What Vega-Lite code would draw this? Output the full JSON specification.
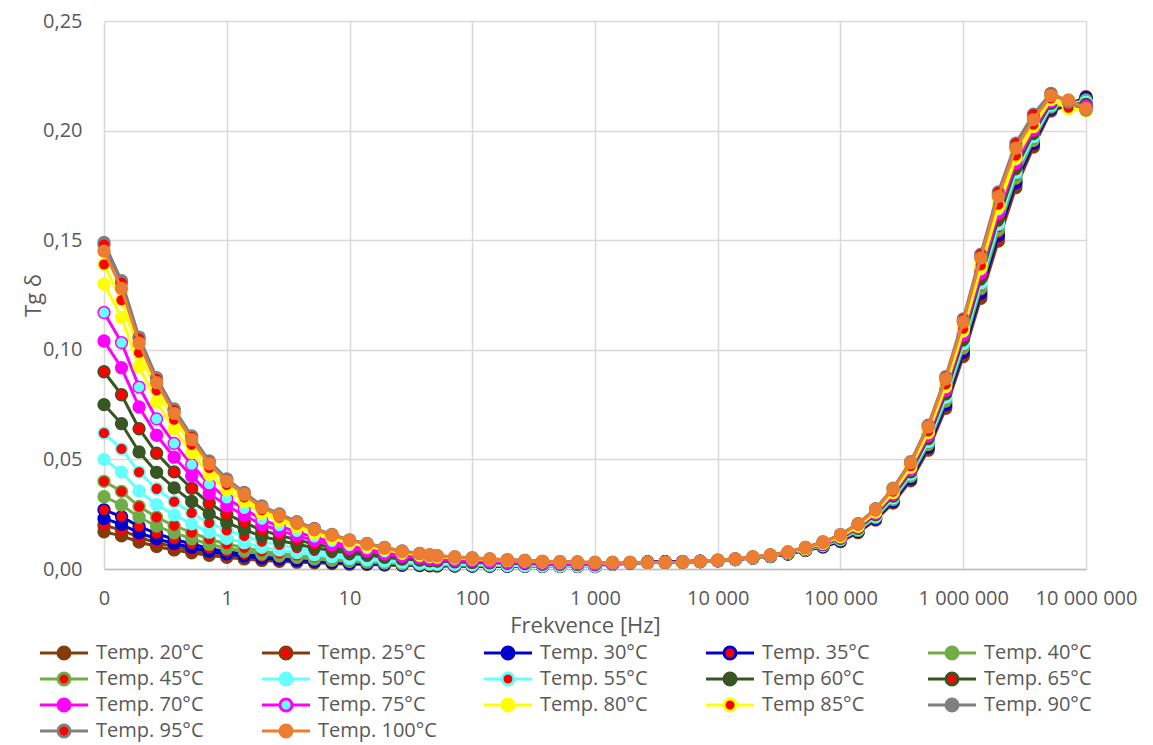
{
"$schema": "https://vega.github.io/schema/vega-lite/v6.json",
"width": 982, "height": 548,
"autosize": {"type": "none"},
"padding": {"left": 104, "top": 21, "right": 67, "bottom": 176},
"background": "white",
"config": {
  "view": {"stroke": null},
  "font": "Open Sans",
  "line": {"strokeWidth": 3, "strokeJoin": "round"},
  "point": {"filled": true, "size": 140, "strokeWidth": 1.5, "opacity": 1},
  "axis": {"gridColor": "#D9D9D9", "gridWidth": 1.5, "labelColor": "#595959", "titleColor": "#595959", "labelFont": "Open Sans", "titleFont": "Open Sans", "titleFontWeight": "normal", "ticks": false, "labelFontSize": 20, "titleFontSize": 22, "labelFlush": false, "labelOverlap": false},
  "legend": {"columns": 5, "direction": "horizontal", "gridAlign": "all", "columnPadding": 45, "rowPadding": 6, "symbolSize": 144, "symbolStrokeWidth": 2.5, "labelFont": "Open Sans", "labelFontSize": 20, "labelColor": "#595959", "labelOffset": 22, "padding": 0, "symbolStrokeColor": "#000000", "symbolFillColor": "#000000", "labelLimit": 220}
},
"data": {"values": [
{"f":0.1,"20":0.017,"25":0.020,"30":0.023,"35":0.027,"40":0.033,"45":0.040,"50":0.050,"55":0.062,"60":0.075,"65":0.090,"70":0.104,"75":0.117,"80":0.130,"85":0.139,"90":0.149,"95":0.148,"100":0.145},
{"f":0.1389,"20":0.0151,"25":0.0177,"30":0.0204,"35":0.0239,"40":0.0292,"45":0.0354,"50":0.0442,"55":0.0548,"60":0.0663,"65":0.0795,"70":0.0918,"75":0.1033,"80":0.1148,"85":0.1227,"90":0.1315,"95":0.1306,"100":0.128},
{"f":0.1931,"20":0.0123,"25":0.0144,"30":0.0165,"35":0.0194,"40":0.0236,"45":0.0285,"50":0.0356,"55":0.0442,"60":0.0534,"65":0.0640,"70":0.0739,"75":0.0830,"80":0.0924,"85":0.0987,"90":0.1058,"95":0.1051,"100":0.103},
{"f":0.2683,"20":0.0103,"25":0.0120,"30":0.0138,"35":0.0161,"40":0.0196,"45":0.0236,"50":0.0294,"55":0.0366,"60":0.0441,"65":0.0528,"70":0.0610,"75":0.0685,"80":0.0762,"85":0.0815,"90":0.0873,"95":0.0867,"100":0.085},
{"f":0.3728,"20":0.0087,"25":0.0102,"30":0.0116,"35":0.0136,"40":0.0165,"45":0.0198,"50":0.0247,"55":0.0307,"60":0.0370,"65":0.0443,"70":0.0510,"75":0.0573,"80":0.0638,"85":0.0682,"90":0.0730,"95":0.0725,"100":0.071},
{"f":0.5179,"20":0.0074,"25":0.0086,"30":0.0098,"35":0.0114,"40":0.0138,"45":0.0166,"50":0.0206,"55":0.0256,"60":0.0308,"65":0.0368,"70":0.0424,"75":0.0476,"80":0.0531,"85":0.0567,"90":0.0607,"95":0.0603,"100":0.059},
{"f":0.7197,"20":0.0062,"25":0.0071,"30":0.0081,"35":0.0094,"40":0.0113,"45":0.0136,"50":0.0168,"55":0.0210,"60":0.0252,"65":0.0300,"70":0.0345,"75":0.0387,"80":0.0432,"85":0.0461,"90":0.0493,"95":0.0490,"100":0.048},
{"f":1,"20":0.0053,"25":0.0061,"30":0.0069,"35":0.0079,"40":0.0095,"45":0.0114,"50":0.0140,"55":0.0176,"60":0.0211,"65":0.0250,"70":0.0288,"75":0.0322,"80":0.0361,"85":0.0384,"90":0.0411,"95":0.0408,"100":0.040},
{"f":1.389,"20":0.0046,"25":0.0053,"30":0.0059,"35":0.0068,"40":0.0082,"45":0.0097,"50":0.0120,"55":0.0151,"60":0.0180,"65":0.0213,"70":0.0245,"75":0.0274,"80":0.0307,"85":0.0327,"90":0.0349,"95":0.0347,"100":0.034},
{"f":1.931,"20":0.0039,"25":0.0045,"30":0.0050,"35":0.0057,"40":0.0068,"45":0.0081,"50":0.0099,"55":0.0125,"60":0.0149,"65":0.0176,"70":0.0202,"75":0.0225,"80":0.0253,"85":0.0269,"90":0.0288,"95":0.0286,"100":0.028},
{"f":2.683,"20":0.0035,"25":0.0040,"30":0.0045,"35":0.0051,"40":0.0060,"45":0.0071,"50":0.0087,"55":0.0110,"60":0.0130,"65":0.0154,"70":0.0176,"75":0.0196,"80":0.0221,"85":0.0235,"90":0.0251,"95":0.0249,"100":0.0245},
{"f":3.728,"20":0.0031,"25":0.0035,"30":0.0039,"35":0.0045,"40":0.0053,"45":0.0062,"50":0.0075,"55":0.0095,"60":0.0113,"65":0.0133,"70":0.0151,"75":0.0169,"80":0.0190,"85":0.0202,"90":0.0216,"95":0.0214,"100":0.021},
{"f":5.179,"20":0.0028,"25":0.0031,"30":0.0035,"35":0.0039,"40":0.0046,"45":0.0054,"50":0.0065,"55":0.0083,"60":0.0097,"65":0.0114,"70":0.0130,"75":0.0144,"80":0.0163,"85":0.0173,"90":0.0185,"95":0.0184,"100":0.018},
{"f":7.197,"20":0.0025,"25":0.0028,"30":0.0031,"35":0.0034,"40":0.0040,"45":0.0047,"50":0.0056,"55":0.0072,"60":0.0084,"65":0.0098,"70":0.0111,"75":0.0124,"80":0.0140,"85":0.0149,"90":0.0158,"95":0.0157,"100":0.0155},
{"f":10,"20":0.0022,"25":0.0025,"30":0.0027,"35":0.0030,"40":0.0035,"45":0.0040,"50":0.0048,"55":0.0062,"60":0.0072,"65":0.0083,"70":0.0094,"75":0.0104,"80":0.0119,"85":0.0126,"90":0.0133,"95":0.0132,"100":0.013},
{"f":13.89,"20":0.0021,"25":0.0023,"30":0.0025,"35":0.0027,"40":0.0031,"45":0.0036,"50":0.0042,"55":0.0055,"60":0.0064,"65":0.0073,"70":0.0083,"75":0.0091,"80":0.0104,"85":0.0110,"90":0.0117,"95":0.0116,"100":0.0114},
{"f":19.31,"20":0.0018,"25":0.0020,"30":0.0022,"35":0.0024,"40":0.0027,"45":0.0031,"50":0.0036,"55":0.0047,"60":0.0054,"65":0.0062,"70":0.0069,"75":0.0076,"80":0.0088,"85":0.0093,"90":0.0098,"95":0.0097,"100":0.0096},
{"f":26.83,"20":0.0017,"25":0.0018,"30":0.0019,"35":0.0021,"40":0.0023,"45":0.0026,"50":0.0031,"55":0.0040,"60":0.0046,"65":0.0052,"70":0.0058,"75":0.0064,"80":0.0074,"85":0.0078,"90":0.0082,"95":0.0081,"100":0.008},
{"f":37.28,"20":0.0016,"25":0.0017,"30":0.0018,"35":0.0019,"40":0.0021,"45":0.0024,"50":0.0027,"55":0.0036,"60":0.0041,"65":0.0046,"70":0.0051,"75":0.0055,"80":0.0065,"85":0.0068,"90":0.0071,"95":0.0071,"100":0.007},
{"f":45,"20":0.0015,"25":0.0016,"30":0.0017,"35":0.0018,"40":0.0020,"45":0.0022,"50":0.0025,"55":0.0033,"60":0.0037,"65":0.0042,"70":0.0046,"75":0.0050,"80":0.0058,"85":0.0061,"90":0.0064,"95":0.0064,"100":0.0064},
{"f":51.79,"20":0.0014,"25":0.0015,"30":0.0016,"35":0.0017,"40":0.0019,"45":0.0021,"50":0.0024,"55":0.0032,"60":0.0036,"65":0.0040,"70":0.0044,"75":0.0047,"80":0.0056,"85":0.0058,"90":0.0061,"95":0.0061,"100":0.006},
{"f":71.97,"20":0.0014,"25":0.0015,"30":0.0015,"35":0.0016,"40":0.0018,"45":0.0019,"50":0.0022,"55":0.0029,"60":0.0033,"65":0.0036,"70":0.0040,"75":0.0043,"80":0.0051,"85":0.0053,"90":0.0055,"95":0.0055,"100":0.0055},
{"f":100,"20":0.0013,"25":0.0014,"30":0.0015,"35":0.0015,"40":0.0017,"45":0.0018,"50":0.0020,"55":0.0028,"60":0.0030,"65":0.0034,"70":0.0037,"75":0.0039,"80":0.0047,"85":0.0049,"90":0.0051,"95":0.0051,"100":0.005},
{"f":138.9,"20":0.0013,"25":0.0013,"30":0.0014,"35":0.0015,"40":0.0016,"45":0.0017,"50":0.0019,"55":0.0026,"60":0.0028,"65":0.0031,"70":0.0033,"75":0.0036,"80":0.0043,"85":0.0045,"90":0.0046,"95":0.0046,"100":0.0046},
{"f":193.1,"20":0.0012,"25":0.0013,"30":0.0013,"35":0.0014,"40":0.0015,"45":0.0016,"50":0.0017,"55":0.0024,"60":0.0026,"65":0.0028,"70":0.0030,"75":0.0032,"80":0.0039,"85":0.0041,"90":0.0042,"95":0.0042,"100":0.0042},
{"f":268.3,"20":0.0012,"25":0.0012,"30":0.0013,"35":0.0013,"40":0.0014,"45":0.0015,"50":0.0016,"55":0.0023,"60":0.0025,"65":0.0027,"70":0.0028,"75":0.0030,"80":0.0037,"85":0.0038,"90":0.0039,"95":0.0039,"100":0.0038},
{"f":372.8,"20":0.0012,"25":0.0012,"30":0.0012,"35":0.0013,"40":0.0013,"45":0.0014,"50":0.0015,"55":0.0021,"60":0.0022,"65":0.0024,"70":0.0025,"75":0.0027,"80":0.0033,"85":0.0034,"90":0.0035,"95":0.0035,"100":0.0035},
{"f":517.9,"20":0.0011,"25":0.0012,"30":0.0012,"35":0.0012,"40":0.0013,"45":0.0014,"50":0.0014,"55":0.0020,"60":0.0022,"65":0.0023,"70":0.0024,"75":0.0025,"80":0.0032,"85":0.0032,"90":0.0033,"95":0.0033,"100":0.0033},
{"f":719.7,"20":0.0011,"25":0.0012,"30":0.0012,"35":0.0012,"40":0.0013,"45":0.0013,"50":0.0014,"55":0.0020,"60":0.0021,"65":0.0022,"70":0.0023,"75":0.0024,"80":0.0030,"85":0.0031,"90":0.0032,"95":0.0032,"100":0.0031},
{"f":1000,"20":0.0011,"25":0.0011,"30":0.0012,"35":0.0012,"40":0.0012,"45":0.0013,"50":0.0013,"55":0.0019,"60":0.0020,"65":0.0021,"70":0.0022,"75":0.0023,"80":0.0029,"85":0.0030,"90":0.0030,"95":0.0030,"100":0.003},
{"f":1389,"20":0.0022,"25":0.0022,"30":0.0022,"35":0.0022,"40":0.0022,"45":0.0022,"50":0.0022,"55":0.0025,"60":0.0025,"65":0.0025,"70":0.0025,"75":0.0025,"80":0.0029,"85":0.0029,"90":0.0030,"95":0.0030,"100":0.003},
{"f":1931,"20":0.0027,"25":0.0027,"30":0.0027,"35":0.0027,"40":0.0027,"45":0.0027,"50":0.0027,"55":0.0028,"60":0.0028,"65":0.0028,"70":0.0028,"75":0.0028,"80":0.0030,"85":0.0030,"90":0.0030,"95":0.0030,"100":0.003},
{"f":2683,"20":0.0030,"25":0.0030,"30":0.0032,"35":0.0032,"40":0.0030,"45":0.0030,"50":0.0030,"55":0.0030,"60":0.0030,"65":0.0030,"70":0.0030,"75":0.0030,"80":0.0030,"85":0.0030,"90":0.0030,"95":0.0030,"100":0.003},
{"f":3728,"20":0.0030,"25":0.0030,"30":0.0033,"35":0.0033,"40":0.0030,"45":0.0030,"50":0.0030,"55":0.0030,"60":0.0030,"65":0.0030,"70":0.0030,"75":0.0030,"80":0.0030,"85":0.0030,"90":0.0030,"95":0.0030,"100":0.0031},
{"f":5179,"20":0.0031,"25":0.0031,"30":0.0034,"35":0.0034,"40":0.0031,"45":0.0031,"50":0.0031,"55":0.0031,"60":0.0031,"65":0.0031,"70":0.0031,"75":0.0031,"80":0.0031,"85":0.0031,"90":0.0031,"95":0.0031,"100":0.0032},
{"f":7197,"20":0.0034,"25":0.0034,"30":0.0036,"35":0.0036,"40":0.0034,"45":0.0034,"50":0.0034,"55":0.0034,"60":0.0034,"65":0.0034,"70":0.0034,"75":0.0034,"80":0.0034,"85":0.0034,"90":0.0034,"95":0.0034,"100":0.0035},
{"f":10000,"20":0.0038,"25":0.0038,"30":0.0038,"35":0.0038,"40":0.0039,"45":0.0039,"50":0.0039,"55":0.0039,"60":0.0039,"65":0.0039,"70":0.0039,"75":0.0039,"80":0.0040,"85":0.0040,"90":0.0040,"95":0.0040,"100":0.0040},
{"f":13895,"20":0.0043,"25":0.0043,"30":0.0043,"35":0.0044,"40":0.0044,"45":0.0044,"50":0.0044,"55":0.0044,"60":0.0045,"65":0.0045,"70":0.0045,"75":0.0045,"80":0.0045,"85":0.0045,"90":0.0046,"95":0.0046,"100":0.0046},
{"f":19307,"20":0.0050,"25":0.0050,"30":0.0051,"35":0.0051,"40":0.0051,"45":0.0052,"50":0.0052,"55":0.0052,"60":0.0053,"65":0.0053,"70":0.0053,"75":0.0053,"80":0.0054,"85":0.0054,"90":0.0055,"95":0.0055,"100":0.0055},
{"f":26827,"20":0.0057,"25":0.0057,"30":0.0058,"35":0.0058,"40":0.0059,"45":0.0059,"50":0.0060,"55":0.0060,"60":0.0061,"65":0.0061,"70":0.0061,"75":0.0062,"80":0.0062,"85":0.0063,"90":0.0064,"95":0.0064,"100":0.0064},
{"f":37276,"20":0.0068,"25":0.0069,"30":0.0069,"35":0.0070,"40":0.0071,"45":0.0071,"50":0.0072,"55":0.0072,"60":0.0073,"65":0.0074,"70":0.0074,"75":0.0075,"80":0.0076,"85":0.0076,"90":0.0078,"95":0.0078,"100":0.0078},
{"f":51795,"20":0.0084,"25":0.0085,"30":0.0086,"35":0.0087,"40":0.0088,"45":0.0088,"50":0.0089,"55":0.0090,"60":0.0091,"65":0.0092,"70":0.0093,"75":0.0094,"80":0.0095,"85":0.0095,"90":0.0098,"95":0.0098,"100":0.0098},
{"f":71969,"20":0.0100,"25":0.0101,"30":0.0103,"35":0.0104,"40":0.0106,"45":0.0107,"50":0.0108,"55":0.0110,"60":0.0111,"65":0.0112,"70":0.0114,"75":0.0115,"80":0.0117,"85":0.0118,"90":0.0123,"95":0.0123,"100":0.0122},
{"f":100000,"20":0.0125,"25":0.0127,"30":0.0129,"35":0.0131,"40":0.0133,"45":0.0134,"50":0.0136,"55":0.0138,"60":0.0140,"65":0.0142,"70":0.0144,"75":0.0146,"80":0.0148,"85":0.0149,"90":0.0156,"95":0.0157,"100":0.0155},
{"f":138950,"20":0.0166,"25":0.0168,"30":0.0171,"35":0.0173,"40":0.0176,"45":0.0178,"50":0.0181,"55":0.0183,"60":0.0186,"65":0.0188,"70":0.0190,"75":0.0193,"80":0.0195,"85":0.0198,"90":0.0206,"95":0.0207,"100":0.0205},
{"f":193070,"20":0.0223,"25":0.0226,"30":0.0229,"35":0.0232,"40":0.0235,"45":0.0238,"50":0.0241,"55":0.0244,"60":0.0248,"65":0.0251,"70":0.0254,"75":0.0257,"80":0.0260,"85":0.0263,"90":0.0273,"95":0.0275,"100":0.0272},
{"f":268270,"20":0.0301,"25":0.0305,"30":0.0309,"35":0.0313,"40":0.0317,"45":0.0321,"50":0.0325,"55":0.0329,"60":0.0333,"65":0.0337,"70":0.0341,"75":0.0345,"80":0.0349,"85":0.0353,"90":0.0367,"95":0.0369,"100":0.0365},
{"f":372760,"20":0.0402,"25":0.0407,"30":0.0412,"35":0.0417,"40":0.0423,"45":0.0428,"50":0.0433,"55":0.0438,"60":0.0443,"65":0.0448,"70":0.0453,"75":0.0458,"80":0.0464,"85":0.0469,"90":0.0486,"95":0.0490,"100":0.0484},
{"f":517950,"20":0.0542,"25":0.0549,"30":0.0555,"35":0.0562,"40":0.0568,"45":0.0575,"50":0.0582,"55":0.0588,"60":0.0595,"65":0.0602,"70":0.0608,"75":0.0615,"80":0.0622,"85":0.0628,"90":0.0651,"95":0.0656,"100":0.0648},
{"f":719690,"20":0.0733,"25":0.0741,"30":0.0750,"35":0.0758,"40":0.0767,"45":0.0775,"50":0.0783,"55":0.0792,"60":0.0800,"65":0.0808,"70":0.0817,"75":0.0825,"80":0.0834,"85":0.0842,"90":0.0871,"95":0.0877,"100":0.0867},
{"f":1000000,"20":0.0969,"25":0.0979,"30":0.0989,"35":0.0999,"40":0.1009,"45":0.1018,"50":0.1028,"55":0.1038,"60":0.1048,"65":0.1058,"70":0.1068,"75":0.1078,"80":0.1088,"85":0.1097,"90":0.1133,"95":0.1141,"100":0.1127},
{"f":1389500,"20":0.1235,"25":0.1247,"30":0.1258,"35":0.1270,"40":0.1281,"45":0.1293,"50":0.1304,"55":0.1316,"60":0.1327,"65":0.1339,"70":0.1350,"75":0.1362,"80":0.1373,"85":0.1385,"90":0.1426,"95":0.1436,"100":0.1419},
{"f":1930700,"20":0.1496,"25":0.1509,"30":0.1522,"35":0.1534,"40":0.1547,"45":0.1560,"50":0.1573,"55":0.1585,"60":0.1598,"65":0.1611,"70":0.1624,"75":0.1636,"80":0.1649,"85":0.1662,"90":0.1709,"95":0.1720,"100":0.1700},
{"f":2682700,"20":0.1740,"25":0.1751,"30":0.1763,"35":0.1774,"40":0.1785,"45":0.1796,"50":0.1808,"55":0.1819,"60":0.1830,"65":0.1841,"70":0.1853,"75":0.1864,"80":0.1875,"85":0.1886,"90":0.1930,"95":0.1943,"100":0.1920},
{"f":3727600,"20":0.1925,"25":0.1933,"30":0.1941,"35":0.1948,"40":0.1956,"45":0.1964,"50":0.1972,"55":0.1980,"60":0.1988,"65":0.1995,"70":0.2003,"75":0.2011,"80":0.2019,"85":0.2027,"90":0.2060,"95":0.2075,"100":0.2050},
{"f":5179500,"20":0.2089,"25":0.2093,"30":0.2098,"35":0.2102,"40":0.2107,"45":0.2111,"50":0.2116,"55":0.2120,"60":0.2125,"65":0.2129,"70":0.2133,"75":0.2138,"80":0.2142,"85":0.2147,"90":0.2165,"95":0.2170,"100":0.2160},
{"f":7196900,"20":0.2115,"25":0.2115,"30":0.2120,"35":0.2120,"40":0.2120,"45":0.2125,"50":0.2125,"55":0.2125,"60":0.2125,"65":0.2120,"70":0.2110,"75":0.2110,"80":0.2100,"85":0.2105,"90":0.2130,"95":0.2135,"100":0.2140},
{"f":10000000,"20":0.2155,"25":0.2150,"30":0.2150,"35":0.2145,"40":0.2140,"45":0.2135,"50":0.2130,"55":0.2125,"60":0.2120,"65":0.2115,"70":0.2110,"75":0.2105,"80":0.2090,"85":0.2090,"90":0.2095,"95":0.2095,"100":0.2100}
]},
"transform": [{"fold": ["20","25","30","35","40","45","50","55","60","65","70","75","80","85","90","95","100"], "as": ["s","v"]}],
"encoding": {
  "x": {"field": "f", "type": "quantitative", "scale": {"type": "log", "domain": [0.1, 10000000], "nice": false},
        "axis": {"values": [0.1,1,10,100,1000,10000,100000,1000000,10000000], "labelExpr": "replace(format(datum.value, ',.0f'), regexp(',', 'g'), ' ')", "title": "Frekvence [Hz]", "titleX": 481, "grid": true, "domain": true, "domainColor": "#BFBFBF", "domainWidth": 1.5, "labelPadding": 19, "titlePadding": 7}},
  "y": {"field": "v", "type": "quantitative", "scale": {"domain": [0, 0.25], "nice": false},
        "axis": {"values": [0,0.05,0.1,0.15,0.2,0.25], "labelExpr": "replace(format(datum.value, '.2f'), '.', ',')", "title": "Tg δ", "grid": true, "domain": false, "labelPadding": 22, "titlePadding": -3}},
  "stroke": {"field": "s", "type": "nominal",
        "scale": {"domain": ["20","25","30","35","40","45","50","55","60","65","70","75","80","85","90","95","100"],
                  "range": ["#843C0C","#843C0C","#0000CC","#0000CC","#70AD47","#70AD47","#66FFFF","#66FFFF","#375623","#375623","#FF00FF","#FF00FF","#FFFF00","#FFFF00","#808080","#808080","#ED7D31"]},
        "legend": {"title": null, "orient": "none", "legendX": -50, "legendY": 622, "symbolType": "M-4,0H-1M1,0H4M-1,0A1,1,0,1,1,1,0A1,1,0,1,1,-1,0Z", "labelExpr": "(datum.label=='60'||datum.label=='85'?'Temp ':'Temp. ')+datum.label+'°C'"}}
},
"layer": [
  {"transform":[{"filter":"datum.s==='20'"}],"layer":[{"mark":"line"},{"mark":"point","encoding":{"fill":{"field":"s","type":"nominal",
      "scale": {"domain": ["20","25","30","35","40","45","50","55","60","65","70","75","80","85","90","95","100"],
                "range": ["#843C0C","#FF0000","#0000CC","#FF0000","#70AD47","#FF0000","#66FFFF","#FF0000","#375623","#FF0000","#FF00FF","#66FFFF","#FFFF00","#FF0000","#808080","#FF0000","#ED7D31"]},
      "legend": {"title": null, "orient": "none", "legendX": -50, "legendY": 622, "symbolType": "M-4,0H-1M1,0H4M-1,0A1,1,0,1,1,1,0A1,1,0,1,1,-1,0Z", "labelExpr": "(datum.label=='60'||datum.label=='85'?'Temp ':'Temp. ')+datum.label+'°C'"}}}}]},
  {"transform":[{"filter":"datum.s==='25'"}],"layer":[{"mark":"line"},{"mark":"point","encoding":{"fill":{"field":"s","type":"nominal"}}}]},
  {"transform":[{"filter":"datum.s==='30'"}],"layer":[{"mark":"line"},{"mark":"point","encoding":{"fill":{"field":"s","type":"nominal"}}}]},
  {"transform":[{"filter":"datum.s==='35'"}],"layer":[{"mark":"line"},{"mark":"point","encoding":{"fill":{"field":"s","type":"nominal"}}}]},
  {"transform":[{"filter":"datum.s==='40'"}],"layer":[{"mark":"line"},{"mark":"point","encoding":{"fill":{"field":"s","type":"nominal"}}}]},
  {"transform":[{"filter":"datum.s==='45'"}],"layer":[{"mark":"line"},{"mark":"point","encoding":{"fill":{"field":"s","type":"nominal"}}}]},
  {"transform":[{"filter":"datum.s==='50'"}],"layer":[{"mark":"line"},{"mark":"point","encoding":{"fill":{"field":"s","type":"nominal"}}}]},
  {"transform":[{"filter":"datum.s==='55'"}],"layer":[{"mark":"line"},{"mark":"point","encoding":{"fill":{"field":"s","type":"nominal"}}}]},
  {"transform":[{"filter":"datum.s==='60'"}],"layer":[{"mark":"line"},{"mark":"point","encoding":{"fill":{"field":"s","type":"nominal"}}}]},
  {"transform":[{"filter":"datum.s==='65'"}],"layer":[{"mark":"line"},{"mark":"point","encoding":{"fill":{"field":"s","type":"nominal"}}}]},
  {"transform":[{"filter":"datum.s==='70'"}],"layer":[{"mark":"line"},{"mark":"point","encoding":{"fill":{"field":"s","type":"nominal"}}}]},
  {"transform":[{"filter":"datum.s==='75'"}],"layer":[{"mark":"line"},{"mark":"point","encoding":{"fill":{"field":"s","type":"nominal"}}}]},
  {"transform":[{"filter":"datum.s==='80'"}],"layer":[{"mark":"line"},{"mark":"point","encoding":{"fill":{"field":"s","type":"nominal"}}}]},
  {"transform":[{"filter":"datum.s==='85'"}],"layer":[{"mark":"line"},{"mark":"point","encoding":{"fill":{"field":"s","type":"nominal"}}}]},
  {"transform":[{"filter":"datum.s==='90'"}],"layer":[{"mark":"line"},{"mark":"point","encoding":{"fill":{"field":"s","type":"nominal"}}}]},
  {"transform":[{"filter":"datum.s==='95'"}],"layer":[{"mark":"line"},{"mark":"point","encoding":{"fill":{"field":"s","type":"nominal"}}}]},
  {"transform":[{"filter":"datum.s==='100'"}],"layer":[{"mark":"line"},{"mark":"point","encoding":{"fill":{"field":"s","type":"nominal"}}}]}
]
}
